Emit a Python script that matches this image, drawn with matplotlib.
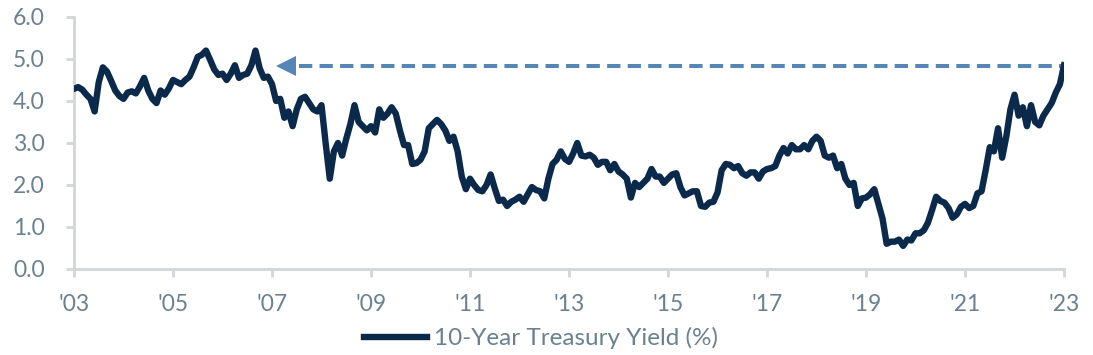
import numpy as np
import matplotlib.pyplot as plt

# monthly 10-year treasury yield, Oct 2003 .. Oct 2023
y2003 = [4.29, 4.33, 4.27]
y2004 = [4.15, 4.05, 3.75, 4.45, 4.80, 4.70, 4.48, 4.25, 4.12, 4.05, 4.20, 4.23]
y2005 = [4.18, 4.35, 4.55, 4.25, 4.05, 3.95, 4.25, 4.15, 4.30, 4.50, 4.45, 4.40]
y2006 = [4.50, 4.58, 4.80, 5.05, 5.10, 5.20, 4.98, 4.75, 4.62, 4.65, 4.50, 4.65]
y2007 = [4.85, 4.55, 4.62, 4.65, 4.85, 5.20, 4.78, 4.55, 4.58, 4.40, 4.00, 4.05]
y2008 = [3.60, 3.75, 3.40, 3.80, 4.05, 4.10, 3.95, 3.80, 3.75, 3.90, 3.00, 2.15]
y2009 = [2.80, 3.00, 2.70, 3.10, 3.45, 3.90, 3.50, 3.40, 3.30, 3.40, 3.25, 3.80]
y2010 = [3.60, 3.70, 3.85, 3.70, 3.30, 2.95, 2.95, 2.50, 2.52, 2.60, 2.80, 3.35]
y2011 = [3.45, 3.55, 3.45, 3.30, 3.05, 3.15, 2.80, 2.20, 1.90, 2.15, 2.00, 1.88]
y2012 = [1.85, 2.00, 2.25, 1.92, 1.62, 1.65, 1.50, 1.60, 1.65, 1.72, 1.60, 1.78]
y2013 = [1.95, 1.88, 1.85, 1.68, 2.15, 2.50, 2.60, 2.80, 2.62, 2.55, 2.75, 3.00]
y2014 = [2.70, 2.68, 2.72, 2.65, 2.48, 2.55, 2.55, 2.35, 2.50, 2.32, 2.25, 2.15]
y2015 = [1.70, 2.05, 1.95, 2.05, 2.15, 2.38, 2.20, 2.20, 2.05, 2.15, 2.25, 2.28]
y2016 = [1.95, 1.75, 1.80, 1.85, 1.85, 1.50, 1.48, 1.58, 1.60, 1.82, 2.35, 2.50]
y2017 = [2.48, 2.40, 2.45, 2.28, 2.22, 2.30, 2.30, 2.15, 2.32, 2.38, 2.40, 2.45]
y2018 = [2.70, 2.88, 2.75, 2.95, 2.85, 2.85, 2.95, 2.85, 3.05, 3.15, 3.05, 2.70]
y2019 = [2.65, 2.70, 2.40, 2.50, 2.15, 2.00, 2.05, 1.50, 1.68, 1.70, 1.78, 1.90]
y2020 = [1.55, 1.20, 0.60, 0.65, 0.65, 0.70, 0.55, 0.70, 0.68, 0.85, 0.85, 0.92]
y2021 = [1.10, 1.40, 1.72, 1.62, 1.58, 1.45, 1.22, 1.30, 1.48, 1.55, 1.45, 1.50]
y2022 = [1.80, 1.85, 2.35, 2.90, 2.80, 3.35, 2.65, 3.15, 3.80, 4.15, 3.65, 3.85]
y2023 = [3.40, 3.90, 3.50, 3.42, 3.65, 3.80, 3.95, 4.20, 4.40, 4.85]

yields = (y2003 + y2004 + y2005 + y2006 + y2007 + y2008 + y2009 + y2010 + y2011
          + y2012 + y2013 + y2014 + y2015 + y2016 + y2017 + y2018 + y2019
          + y2020 + y2021 + y2022 + y2023)
months = np.arange(len(yields))

tick_labels = ["'03", "'05", "'07", "'09", "'11", "'13", "'15", "'17", "'19", "'21", "'23"]
ref_level = 4.83      # current yield, carried back to 2007
ref_start = 51.5      # month index where the arrow sits

navy = '#0b2a4b'
grey_txt = '#6a8191'
spine_col = '#d2d6d9'
arrow_col = '#5586b6'

plt.rcParams['font.family'] = ['Lato', 'DejaVu Sans']

fig = plt.figure(figsize=(10.93, 3.55), dpi=100)
ax = fig.add_axes([0.0677, 0.2423, 0.9058, 0.7099])

ax.plot(months, yields, color=navy, lw=4.6, solid_joinstyle='round', zorder=3,
        label='10-Year Treasury Yield (%)')

# dashed reference line with arrow head pointing back
ax.plot([ref_start + 3, months[-1]], [ref_level, ref_level], color=arrow_col,
        lw=2.9, ls=(0, (3.3, 1.8)), zorder=2)
ax.plot([ref_start], [ref_level], marker='<', color=arrow_col, markersize=14,
        markeredgewidth=0, zorder=2)

ax.set_xlim(0, 240)
ax.set_ylim(0, 6)
ax.set_xticks(np.arange(0, 241, 24))
ax.set_xticklabels(tick_labels)
ax.set_yticks(np.arange(0, 6.1, 1))
ax.set_yticklabels([f'{v:.1f}' for v in np.arange(0, 6.1, 1)])

for s in ['top', 'right']:
    ax.spines[s].set_visible(False)
for s in ['left', 'bottom']:
    ax.spines[s].set_color(spine_col)
    ax.spines[s].set_linewidth(2)

ax.tick_params(axis='both', colors=spine_col, labelcolor=grey_txt,
               labelsize=16.5, width=2, length=6)
ax.tick_params(axis='x', pad=12)
ax.tick_params(axis='y', pad=15)

fig.legend(loc='lower center', bbox_to_anchor=(0.495, -0.045), frameon=False,
           fontsize=17.5, labelcolor=grey_txt, handlelength=2.6, handletextpad=0.3)

fig.savefig('out.png', dpi=100)
